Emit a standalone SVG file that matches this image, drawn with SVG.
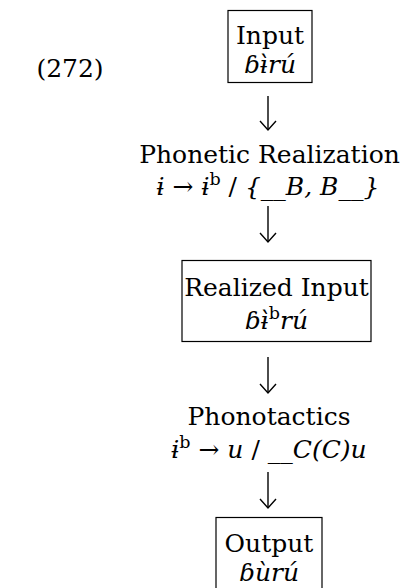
<svg xmlns="http://www.w3.org/2000/svg" width="405" height="588" viewBox="0 0 405 588">
<defs>
<style>
.t{font-family:"DejaVu Serif","Liberation Serif",serif;font-size:25px;fill:#000;text-anchor:middle}
.i{font-style:italic}
.box{fill:#fff;stroke:#000;stroke-width:1.2}
.arr{fill:none;stroke:#000;stroke-width:1.4}
.sup{font-size:17.5px}
</style>
</defs>
<rect width="405" height="588" fill="#fff"/>
<text class="t" x="70" y="77">(272)</text>
<g id="connectors">
<line class="arr" x1="268" y1="96" x2="268" y2="130"/>
<line class="arr" x1="268" y1="206" x2="268" y2="242"/>
<line class="arr" x1="268" y1="357" x2="268" y2="393"/>
<line class="arr" x1="268" y1="472" x2="268" y2="508"/>
<path class="arr" d="M260,121 L268,130 L276,121 M260,233 L268,242 L276,233 M260,384 L268,393 L276,384 M260,499 L268,508 L276,499"/>
</g>
<g id="input">
<rect class="box" x="228" y="10.5" width="84" height="72"/>
<text class="t" x="270" y="44">Input</text>
<text class="t i" x="270" y="73">ɓɨ̀rú</text>
</g>
<g id="phonetic-realization">
<text class="t" x="269.5" y="163">Phonetic Realization</text>
<text class="t" x="268" y="195"><tspan class="i">ɨ</tspan> → <tspan class="i">ɨ</tspan><tspan class="sup" dy="-10">b</tspan><tspan dy="10"> / </tspan><tspan class="i">{__B, B__}</tspan></text>
</g>
<g id="realized-input">
<rect class="box" x="182" y="260.5" width="189" height="81"/>
<text class="t" x="276.5" y="296">Realized Input</text>
<text class="t" x="276.5" y="329"><tspan class="i">ɓɨ̀</tspan><tspan class="sup" dy="-10">b</tspan><tspan class="i" dy="10">rú</tspan></text>
</g>
<g id="phonotactics">
<text class="t" x="269" y="425">Phonotactics</text>
<text class="t" x="269" y="458"><tspan class="i">ɨ</tspan><tspan class="sup" dy="-10">b</tspan><tspan dy="10"> → </tspan><tspan class="i">u</tspan> / <tspan class="i">__C(C)u</tspan></text>
</g>
<g id="output">
<rect class="box" x="216" y="517.5" width="106" height="72"/>
<text class="t" x="269" y="552">Output</text>
<text class="t i" x="269" y="581">ɓùrú</text>
</g>
</svg>
